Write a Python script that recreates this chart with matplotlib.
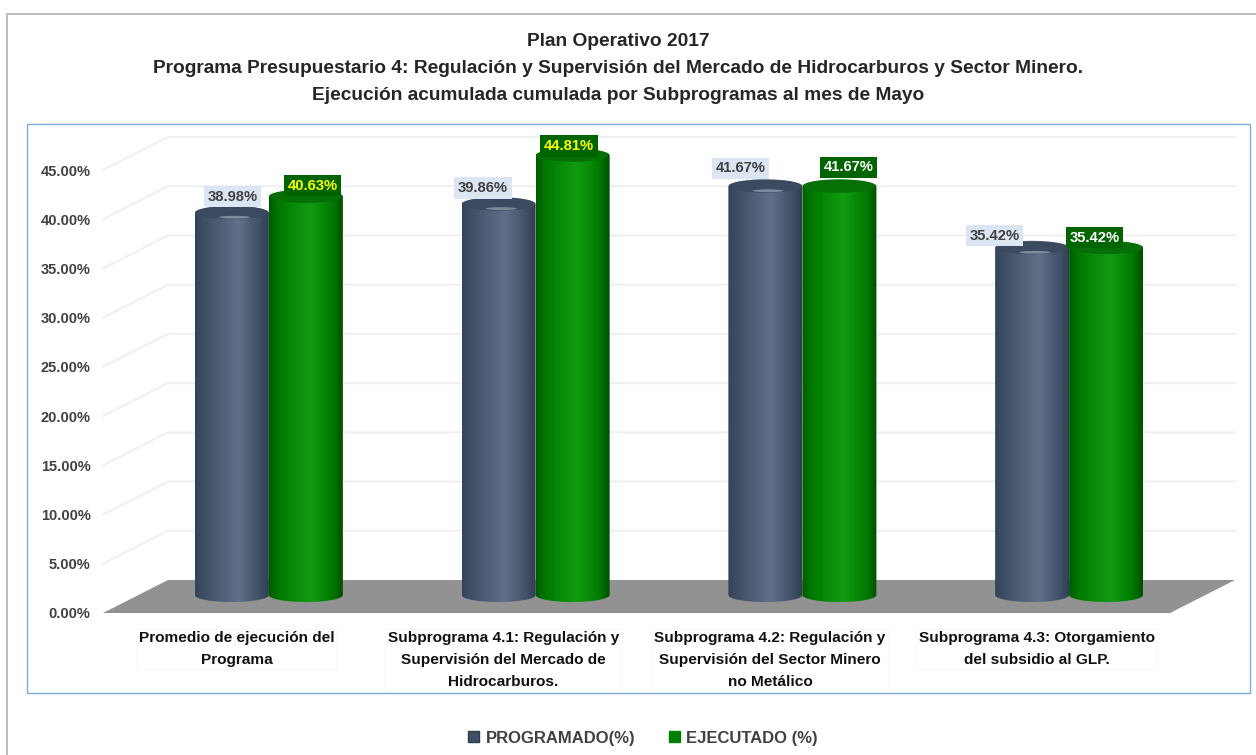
import numpy as np
import matplotlib
matplotlib.use("Agg")
import matplotlib.pyplot as plt
from matplotlib.colors import LinearSegmentedColormap
from matplotlib.lines import Line2D
from matplotlib.patches import Ellipse, PathPatch, Patch, Polygon, Rectangle
from matplotlib.path import Path

categories = [
    "Promedio de ejecución del\nPrograma",
    "Subprograma 4.1: Regulación y\nSupervisión del Mercado de\nHidrocarburos.",
    "Subprograma 4.2: Regulación y\nSupervisión del Sector Minero\nno Metálico",
    "Subprograma 4.3: Otorgamiento\ndel subsidio al GLP.",
]
programado = [38.98, 39.86, 41.67, 35.42]
ejecutado = [40.63, 44.81, 41.67, 35.42]
y_ticks = [0, 5, 10, 15, 20, 25, 30, 35, 40, 45]
titles = [
    "Plan Operativo 2017",
    "Programa Presupuestario 4: Regulación y Supervisión del Mercado de Hidrocarburos y Sector Minero.",
    "Ejecución acumulada cumulada por Subprogramas al mes de Mayo",
]

W, H = 1256, 755
plt.rcParams["font.family"] = ["Liberation Sans", "DejaVu Sans"]
plt.rcParams["font.weight"] = "bold"

# pixel layout of the front plane of the fake 3D box
LEFT, RIGHT, BASE, TOP = 103, 1170, 613, 170
PX_X = (RIGHT - LEFT) / 4
PX_Y = (BASE - TOP) / 45
DEPTH_X = 65 / PX_X
DEPTH_Y = 33 / PX_Y
BAR_W = 74 / PX_X
CAP = 14 / PX_Y

blue_cm = LinearSegmentedColormap.from_list(
    "blue", [(0, "#34435a"), (0.12, "#3e4e65"), (0.58, "#5f7088"), (0.88, "#3f4f66"), (1, "#2f3d50")])
green_cm = LinearSegmentedColormap.from_list(
    "green", [(0, "#005a00"), (0.14, "#017a01"), (0.55, "#129c12"), (0.86, "#017a01"), (1, "#004f00")])
gradient = np.linspace(0, 1, 256).reshape(1, -1)


def px_fig(x, y):
    return x / W, 1 - y / H


def cylinder(ax, xc, value, cmap, cap_color, glow, z):
    x0, x1 = xc - BAR_W / 2, xc + BAR_W / 2
    y0 = DEPTH_Y / 2 + 0.15
    y1 = value + DEPTH_Y / 2
    t = np.linspace(np.pi, 2 * np.pi, 40)
    low = np.column_stack([xc + BAR_W / 2 * np.cos(t), y0 + CAP / 2 * np.sin(t)])
    t2 = np.linspace(0, np.pi, 40)
    high = np.column_stack([xc + BAR_W / 2 * np.cos(t2), y1 + CAP / 2 * np.sin(t2)])
    outline = np.vstack([low, high, low[:1]])
    shape = PathPatch(Path(outline), fc="none", ec="none", transform=ax.transData)
    ax.add_patch(shape)
    shape.set_clip_on(False)
    im = ax.imshow(gradient, extent=[x0, x1, y0 - CAP, y1 + CAP], cmap=cmap, aspect="auto", zorder=z)
    im.set_clip_box(fig.bbox)
    im.set_clip_path(shape)
    ax.add_patch(Ellipse((xc, y1), BAR_W * 0.97, CAP * 0.92, fc=cap_color, ec="none", zorder=z + 0.1, clip_on=False))
    if glow:
        ax.add_patch(Ellipse((xc + 0.01, y1 - CAP * 0.32), BAR_W * 0.42, CAP * 0.2, fc=glow, ec="none",
                             alpha=0.6, zorder=z + 0.2, clip_on=False))


fig = plt.figure(figsize=(W / 100, H / 100), dpi=100, facecolor="white")

# outer frame and plot area frame
fig.add_artist(Line2D([6.5 / W, 6.5 / W, 1], [0, 1 - 13.5 / H, 1 - 13.5 / H], color="#bcbcbc", lw=1.4))
fig.add_artist(Rectangle(px_fig(26.5, 692.5), 1223.5 / W, 568.5 / H, fc="none", ec="#7fabd9", lw=1.0))

ax = fig.add_axes([LEFT / W, 1 - BASE / H, (RIGHT - LEFT) / W, (BASE - TOP) / H])
ax.patch.set_alpha(0)
for s in ax.spines.values():
    s.set_visible(False)

# back wall grid and the side wall diagonals
for v in y_ticks[1:]:
    ax.plot([-0.5, -0.5 + DEPTH_X, 3.5 + DEPTH_X], [v, v + DEPTH_Y, v + DEPTH_Y],
            color="#f0f0f0", lw=1.5, clip_on=False, zorder=1)

# floor
ax.add_patch(Polygon([(-0.5, 0), (-0.5 + DEPTH_X, DEPTH_Y), (3.5 + DEPTH_X, DEPTH_Y), (3.5, 0)],
                     fc="#929292", ec="none", clip_on=False, zorder=2))

label_dx_blue = [0.5, -15.5, -24.5, -37.5]
label_dy_blue = [16, 16, 18, 12]
label_dx_green = [6.5, -3.5, 9.5, -11.5]
label_dy_green = [11, 9.5, 19, 10]
green_text = ["#ffff00", "#ffff00", "#ffffff", "#ffffff"]

for i in range(len(categories)):
    xb = i + DEPTH_X / 2 - BAR_W / 2
    xg = i + DEPTH_X / 2 + BAR_W / 2
    cylinder(ax, xb, programado[i], blue_cm, "#3b4a5f", "#a9b6c6", 3 + i)
    cylinder(ax, xg, ejecutado[i], green_cm, "#067006", None, 3.5 + i)
    ax.annotate(f"{programado[i]:.2f}%", (xb, programado[i] + DEPTH_Y / 2),
                xytext=(label_dx_blue[i], label_dy_blue[i]), textcoords="offset pixels",
                ha="center", va="center", fontsize=10.6, color="#404040", zorder=20, annotation_clip=False,
                bbox=dict(boxstyle="square,pad=0.25", fc="#dce6f2", ec="none"))
    ax.annotate(f"{ejecutado[i]:.2f}%", (xg, ejecutado[i] + DEPTH_Y / 2),
                xytext=(label_dx_green[i], label_dy_green[i]), textcoords="offset pixels",
                ha="center", va="center", fontsize=10.6, color=green_text[i], zorder=20, annotation_clip=False,
                bbox=dict(boxstyle="square,pad=0.25", fc="#006400", ec="none"))

ax.set_xlim(-0.5, 3.5)
ax.set_ylim(0, 45)
ax.set_yticks(y_ticks)
ax.set_yticklabels([f"{v:.2f}%" for v in y_ticks], fontsize=10.5, color="#404040")
ax.set_xticks(range(len(categories)))
ax.set_xticklabels(categories, fontsize=11.1, color="#111111", linespacing=1.72)
ax.tick_params(axis="both", length=0)
ax.tick_params(axis="y", pad=9)
ax.tick_params(axis="x", pad=13)
for lab in ax.get_xticklabels():
    lab.set_bbox(dict(boxstyle="square,pad=0.15", fc="none", ec="#fafafa", lw=0.8))

for k, line in enumerate(titles):
    x, y = px_fig(618, 46 + 27 * k)
    fig.text(x, y, line, ha="center", va="baseline", fontsize=13.8, color="#262626")

handles = [Patch(fc="#3f4f66", ec="#2f3d50"), Patch(fc="#008000", ec="#008000")]
lx, ly = px_fig(643, 738)
fig.legend(handles, ["PROGRAMADO(%)", "EJECUTADO (%)"], loc="center", bbox_to_anchor=(lx, ly), ncol=2,
           frameon=False, fontsize=12, labelcolor="#404040", handlelength=0.65, handleheight=0.65,
           handletextpad=0.4, columnspacing=2.0)

fig.savefig("out.png", dpi=100)
